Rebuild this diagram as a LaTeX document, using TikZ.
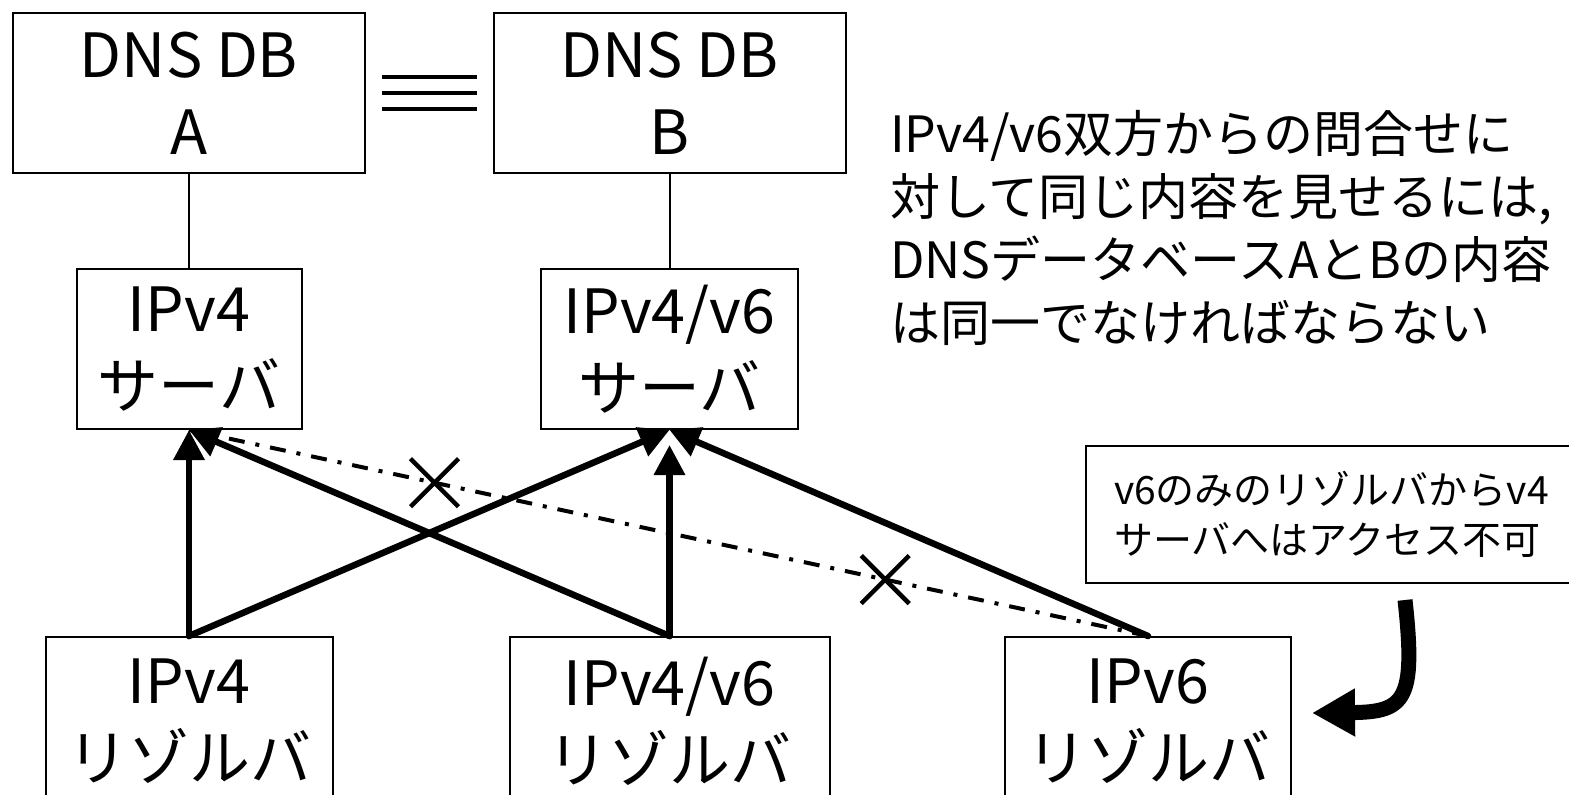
\documentclass[tikz,border=0pt]{standalone}
\usepackage{fontspec}
\setmainfont{Noto Sans CJK JP}
\usetikzlibrary{arrows.meta}
\begin{document}
\begin{tikzpicture}[x=1pt,y=-1pt,
  box/.style={draw, line width=2pt, inner sep=0pt, align=center, font=\fontsize{61}{77}\selectfont},
  thinline/.style={line width=2pt},
  arr/.style={line width=6.5pt, line cap=round, -{Triangle[length=30pt,width=30pt]}},
  nogo/.style={line width=4pt, dash pattern=on 16pt off 11pt on 4pt off 11pt},
  xmark/.style={line width=4.5pt},
  eqline/.style={line width=3.5pt}]
\useasboundingbox (0,0) rectangle (1569,795);
\fill[white] (0,0) rectangle (1569,795);

% database boxes
\node[box, minimum width=352pt, minimum height=160pt] (dbA) at (189,93) {DNS DB\\A};
\node[box, minimum width=352pt, minimum height=160pt] (dbB) at (669.5,93) {DNS DB\\B};
% identity sign
\draw[eqline] (382,77) -- (477,77);
\draw[eqline] (382,93) -- (477,93);
\draw[eqline] (382,109) -- (477,109);

% servers
\node[box, minimum width=225pt, minimum height=160pt] (s4) at (189,349) {IPv4\\サーバ};
\node[box, minimum width=257pt, minimum height=160pt] (s46) at (669.5,349) {IPv4/v6\\サーバ};

% resolvers
\node[box, minimum width=287pt, minimum height=168pt] (r4) at (189,721) {IPv4\\リゾルバ};
\node[box, minimum width=320pt, minimum height=168pt] (r46) at (669.5,721) {IPv4/v6\\リゾルバ};
\node[box, minimum width=286pt, minimum height=168pt] (r6) at (1148,721) {IPv6\\リゾルバ};

% DB - server links
\draw[thinline] (dbA.south) -- (s4.north);
\draw[thinline] (dbB.south) -- (s46.north);

% impossible access
\draw[nogo] (r6.north) -- (s4.south)
  coordinate[pos=0.274] (xb) coordinate[pos=0.744] (xa);
\draw[xmark] (xa) ++(-24,-24) -- ++(48,48) (xa) ++(-24,24) -- ++(48,-48);
\draw[xmark] (xb) ++(-24,-24) -- ++(48,48) (xb) ++(-24,24) -- ++(48,-48);

% queries
\draw[arr] (r4.north) -- (s4.south);
\draw[arr] (r4.north) -- (s46.south);
\draw[arr, shorten >=15pt] (r46.north) -- (s46.south);
\draw[arr] (r46.north) -- (s4.south);
\draw[arr] (r6.north) -- (s46.south);

% explanation
\node[anchor=north west, align=left, inner sep=0pt, font=\fontsize{50}{63}\selectfont] (msg) at (890,110)
  {IPv4/v6双方からの問合せに\\対して同じ内容を見せるには,\\DNSデータベースAとBの内容\\は同一でなければならない};

% note
\node[draw, line width=2pt, anchor=north west, minimum height=137pt, text width=470pt,
  inner xsep=28pt, inner ysep=0pt, align=left, font=\fontsize{39}{50}\selectfont] (note) at (1085,445)
  {v6のみのリゾルバからv4\\サーバへはアクセス不可};

\coordinate (cs) at (1405,600);
\coordinate (ce) at (1312,713);
\draw[line width=15pt, -{Triangle[length=43pt,width=45pt]}] (cs) .. controls (1416,700) and (1405,712) .. (ce);
\end{tikzpicture}
\end{document}
